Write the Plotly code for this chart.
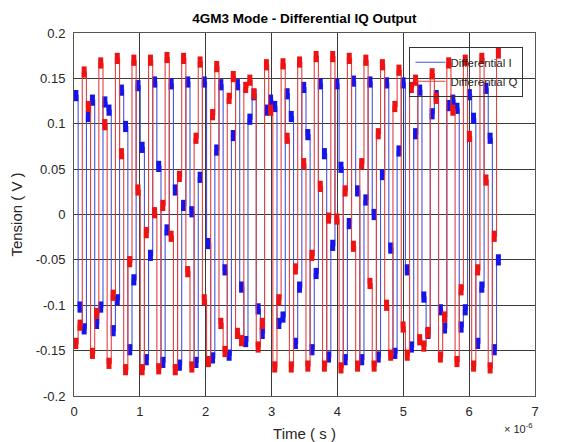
import plotly.graph_objects as go

# ---------------- data ----------------
# duration of one output level (one quarter of the LO period), in microseconds
STEP_US = 0.0629

# Differential Q (red): four successive levels in every LO period
q_low  = [-0.142, -0.153, -0.164, -0.171, -0.171, -0.170, -0.171, -0.168, -0.162, -0.151,
          -0.139, -0.146, -0.168, -0.168, -0.167, -0.167, -0.169, -0.167, -0.167, -0.155,
          -0.155, -0.145, -0.157, -0.162, -0.167, -0.169]
q_mid1 = [-0.122, -0.109, -0.089, -0.052, -0.020, 0.010, 0.042, 0.084, 0.110, 0.128,
          0.140, -0.120, -0.094, -0.060, -0.045, -0.004, 0.026, 0.056, 0.089, 0.119,
          0.140, -0.130, -0.113, -0.083, -0.061, -0.024]
q_high = [0.157, 0.167, 0.172, 0.170, 0.170, 0.173, 0.172, 0.168, 0.163, 0.152,
          0.148, 0.165, 0.166, 0.168, 0.174, 0.174, 0.172, 0.170, 0.165, 0.159,
          0.148, 0.155, 0.167, 0.170, 0.172, 0.178]
q_mid3 = [0.119, 0.099, 0.067, 0.027, 0.002, -0.024, -0.063, -0.094, -0.120, -0.131,
          0.133, 0.115, 0.084, 0.056, 0.031, -0.005, -0.035, -0.076, -0.100, -0.124,
          -0.138, 0.128, 0.115, 0.086, 0.038]

# Differential I (blue): four successive levels in every LO period
i_mid0 = [0.131, 0.126, 0.115, 0.097, 0.074, 0.053, 0.027, 0.003, -0.032, -0.061,
          -0.080, -0.104, 0.119, 0.108, 0.088, 0.067, 0.052, 0.026, 0.000, -0.037,
          -0.061, -0.091, -0.105, 0.117, 0.106, 0.084]
i_low  = [-0.102, -0.120, -0.128, -0.149, -0.160, -0.163, -0.166, -0.163, -0.158, -0.155,
          -0.140, -0.131, -0.120, -0.142, -0.149, -0.157, -0.160, -0.160, -0.157, -0.153,
          -0.146, -0.131, -0.125, -0.124, -0.142, -0.149]
i_mid2 = [-0.126, -0.102, -0.094, -0.072, -0.045, -0.017, 0.010, 0.041, 0.071, 0.087,
          0.105, 0.115, -0.113, -0.080, -0.065, -0.034, -0.010, 0.016, 0.044, 0.070,
          0.089, 0.111, 0.120, -0.105, -0.080, -0.050]
i_high = [0.108, 0.124, 0.137, 0.142, 0.146, 0.144, 0.146, 0.146, 0.143, 0.143,
          0.132, 0.126, 0.133, 0.140, 0.144, 0.144, 0.147, 0.146, 0.145, 0.145,
          0.137, 0.131, 0.126, 0.132, 0.139]

x_ticks = [0, 1, 2, 3, 4, 5, 6, 7]
y_ticks = [-0.2, -0.15, -0.1, -0.05, 0, 0.05, 0.1, 0.15, 0.2]
y_tick_text = ["-0.2", "-0.15", "-0.1", "-0.05", "0", "0.05", "0.1", "0.15", "0.2"]

# ---------------- build the stepped sequences ----------------
q_seq = []
for k in range(len(q_low)):
    q_seq += [q_low[k], q_mid1[k], q_high[k]]
    if k < len(q_mid3):
        q_seq.append(q_mid3[k])

i_seq = []
for k in range(len(i_mid0)):
    i_seq += [i_mid0[k], i_low[k], i_mid2[k]]
    if k < len(i_high):
        i_seq.append(i_high[k])

n_steps = len(q_seq)
t_start = [n * STEP_US for n in range(n_steps)]
t_line = t_start + [t_start[-1] + 0.5 * STEP_US]
t_blob = [t + 0.45 * STEP_US for t in t_start]

RED_LINE = "rgb(226,66,64)"
BLUE_LINE = "rgb(72,86,214)"
RED_BLOB = "rgb(238,18,18)"
BLUE_BLOB = "rgb(20,20,235)"

fig = go.Figure()
fig.add_trace(go.Scatter(x=t_line, y=i_seq + [i_seq[-1]], mode="lines",
                         line=dict(color=BLUE_LINE, width=1.1, shape="hv"),
                         name="Differential I"))
fig.add_trace(go.Scatter(x=t_blob, y=i_seq, mode="markers", showlegend=False,
                         marker=dict(symbol="line-ns", size=8, color=BLUE_BLOB,
                                     line=dict(color=BLUE_BLOB, width=5))))
fig.add_trace(go.Scatter(x=t_line, y=q_seq + [q_seq[-1]], mode="lines",
                         line=dict(color=RED_LINE, width=1.1, shape="hv"),
                         name="Differential Q"))
fig.add_trace(go.Scatter(x=t_blob, y=q_seq, mode="markers", showlegend=False,
                         marker=dict(symbol="line-ns", size=8, color=RED_BLOB,
                                     line=dict(color=RED_BLOB, width=5))))

FONT = "Liberation Sans, Arial, Helvetica, sans-serif"

# the page body adds an 8 px offset, so the figure is 8 px smaller than the window
W, H = 557, 434
ML, MR, MT, MB = 66, 30, 25, 46
PLOT_H = H - MT - MB

fig.update_layout(
    width=W, height=H,
    margin=dict(l=ML, r=MR, t=MT, b=MB),
    paper_bgcolor="white", plot_bgcolor="white",
    font=dict(family=FONT, size=13, color="#262626"),
    title=dict(text="<b>4GM3 Mode - Differential IQ Output</b>",
               x=(ML + (W - MR)) / 2 / W, xanchor="center", y=1 - 10 / H, yanchor="middle",
               font=dict(family=FONT, size=13.5, color="black")),
    legend=dict(x=0.975, xanchor="right", y=0.962, yanchor="top",
                bgcolor="rgba(255,255,255,0)", bordercolor="#333333", borderwidth=1,
                font=dict(family=FONT, size=11.5, color="#262626"),
                itemwidth=30, tracegroupgap=0),
    xaxis=dict(range=[0, 7], tickvals=x_ticks, ticktext=[str(v) for v in x_ticks],
               showgrid=True, gridcolor="#3a3a3a", gridwidth=1, zeroline=False,
               showline=True, linecolor="#555555", linewidth=1, mirror=True,
               ticks="", tickfont=dict(size=13), automargin=False, ticklabelstandoff=3,
               title=dict(text="Time ( s )", font=dict(size=15), standoff=10)),
    yaxis=dict(range=[-0.2, 0.2], tickvals=y_ticks, ticktext=y_tick_text,
               showgrid=True, gridcolor="#3a3a3a", gridwidth=1, zeroline=False,
               showline=True, linecolor="#555555", linewidth=1, mirror=True,
               ticks="", tickfont=dict(size=13), automargin=False, ticklabelstandoff=5,
               title=dict(text="Tension ( V )", font=dict(size=15), standoff=10)),
    annotations=[dict(text="× 10<sup>-6</sup>", xref="paper", yref="paper",
                      x=1.0, xanchor="right", y=-41 / PLOT_H, yanchor="bottom",
                      showarrow=False, font=dict(family=FONT, size=11, color="#262626"))],
)

fig.write_html("out.html")
